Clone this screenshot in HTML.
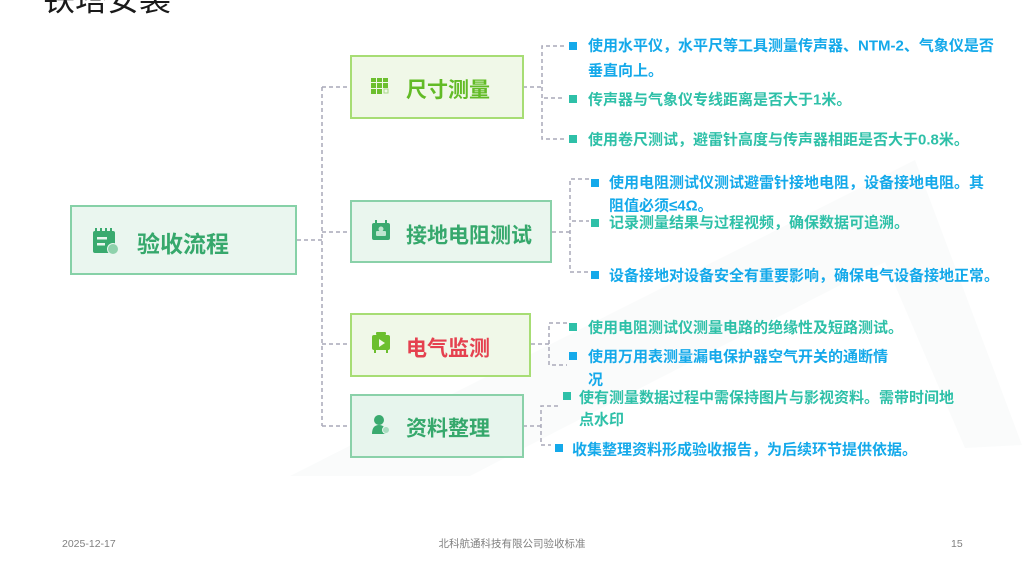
<!DOCTYPE html>
<html><head><meta charset="utf-8">
<style>
html,body{margin:0;padding:0;background:#fff;}
body{width:1024px;height:576px;overflow:hidden;position:relative;}
svg{position:absolute;left:0;top:0;}
text{font-family:"Liberation Sans","Noto Sans CJK SC",sans-serif;}
</style></head>
<body>
<svg width="1024" height="576" viewBox="0 0 1024 576" xmlns="http://www.w3.org/2000/svg">
  <!-- faint background shape -->
  <polygon points="290,476 915,160 1022,445 965,448 885,262 470,476" fill="#fafbfb"/>

  <!-- title -->
  <text x="43" y="10.5" font-size="32" fill="#1a1a1a">铁塔安装</text>

  <!-- connectors -->
  <g stroke="#a9a9b9" stroke-width="1.5" stroke-dasharray="4 3" fill="none">
    <line x1="322" y1="87" x2="322" y2="426"/>
    <line x1="297" y1="240" x2="322" y2="240"/>
    <line x1="322" y1="87" x2="350" y2="87"/>
    <line x1="322" y1="232" x2="350" y2="232"/>
    <line x1="322" y1="344" x2="350" y2="344"/>
    <line x1="322" y1="426" x2="350" y2="426"/>
    <!-- 尺寸 -->
    <line x1="523" y1="87" x2="542" y2="87"/>
    <polyline points="564,46 542,46 542,139 564,139"/>
    <line x1="544" y1="98" x2="564" y2="98"/>
    <!-- 接地 -->
    <line x1="552" y1="232" x2="570" y2="232"/>
    <polyline points="589,179 570,179 570,272 589,272"/>
    <line x1="572" y1="221" x2="589" y2="221"/>
    <!-- 电气 -->
    <line x1="531" y1="344" x2="549" y2="344"/>
    <polyline points="567,323 549,323 549,365 567,365"/>
    <!-- 资料 -->
    <line x1="523" y1="426" x2="541" y2="426"/>
    <polyline points="558,406 541,406 541,445 551,445"/>
  </g>

  <!-- root node -->
  <rect x="71" y="206" width="225" height="68" fill="#eaf6ef" stroke="#86d1a7" stroke-width="2"/>
  <g>
    <rect x="93" y="231" width="22" height="22" rx="2" fill="#3aaa6f"/>
    <rect x="95" y="228" width="2" height="4" fill="#3aaa6f"/>
    <rect x="100" y="228" width="2" height="4" fill="#3aaa6f"/>
    <rect x="105" y="228" width="2" height="4" fill="#3aaa6f"/>
    <rect x="110" y="228" width="2" height="4" fill="#3aaa6f"/>
    <rect x="97" y="237" width="10" height="2.5" fill="#eaf6ef"/>
    <rect x="97" y="243" width="8" height="2.5" fill="#eaf6ef"/>
    <circle cx="113" cy="249" r="5.5" fill="#8fd2ac" stroke="#eaf6ef" stroke-width="1"/>
  </g>
  <text x="137" y="252" font-size="23" font-weight="bold" fill="#36a86c">验收流程</text>

  <!-- 尺寸测量 -->
  <rect x="351" y="56" width="172" height="62" fill="#f0f8e8" stroke="#a7dd74" stroke-width="2"/>
  <g fill="#6cbf2e">
    <rect x="371" y="78" width="5" height="4"/><rect x="377" y="78" width="5" height="4"/><rect x="383" y="78" width="5" height="4"/>
    <rect x="371" y="83" width="5" height="5"/><rect x="377" y="83" width="5" height="5"/><rect x="383" y="83" width="5" height="5"/>
    <rect x="371" y="89" width="5" height="5"/><rect x="377" y="89" width="5" height="5"/>
    <rect x="384" y="89" width="4" height="4" fill="none" stroke="#a9d987" stroke-width="1"/>
  </g>
  <text x="406" y="97" font-size="21" font-weight="bold" fill="#62bb26">尺寸测量</text>

  <!-- 接地电阻测试 -->
  <rect x="351" y="201" width="200" height="61" fill="#eaf6ee" stroke="#8ad1a9" stroke-width="2"/>
  <g>
    <rect x="372" y="223" width="18" height="17" rx="2" fill="#3aaa6f"/>
    <rect x="375" y="220" width="2" height="4" fill="#3aaa6f"/>
    <rect x="385" y="220" width="2" height="4" fill="#3aaa6f"/>
    <rect x="376" y="231" width="10" height="5" rx="1" fill="#bfe6cf"/>
    <circle cx="381" cy="229" r="2.5" fill="#bfe6cf"/>
  </g>
  <text x="406" y="242.5" font-size="21" font-weight="bold" fill="#36a86c">接地电阻测试</text>

  <!-- 电气监测 -->
  <rect x="351" y="314" width="179" height="62" fill="#f0f8e8" stroke="#a7dd74" stroke-width="2"/>
  <g>
    <rect x="376" y="332" width="10" height="3" rx="1" fill="#6cbf2e"/>
    <rect x="372" y="335" width="18" height="15" rx="2" fill="#6cbf2e"/>
    <polygon points="379,339 379,347 385,343" fill="#f0f8e8"/>
    <rect x="374" y="350" width="2" height="3" fill="#6cbf2e"/>
    <rect x="386" y="350" width="2" height="3" fill="#6cbf2e"/>
  </g>
  <text x="406" y="355.5" font-size="21" font-weight="bold" fill="#e5414f">电气监测</text>

  <!-- 资料整理 -->
  <rect x="351" y="395" width="172" height="62" fill="#e7f5ed" stroke="#8ad1a9" stroke-width="2"/>
  <g>
    <circle cx="379" cy="420" r="5" fill="#3aaa6f"/>
    <path d="M372,434 Q372,425 379,425 Q386,425 386,434 Z" fill="#3aaa6f"/>
    <circle cx="386" cy="430" r="3.5" fill="#a9dcc0" stroke="#e7f5ed" stroke-width="1"/>
  </g>
  <text x="406" y="435.5" font-size="21" font-weight="bold" fill="#36a86c">资料整理</text>

  <!-- bullets -->
  <g>
    <rect x="569" y="42" width="8" height="8" fill="#14a9ea"/>
    <rect x="569" y="95" width="8" height="8" fill="#2ec0a8"/>
    <rect x="569" y="135" width="8" height="8" fill="#2ec0a8"/>
    <rect x="591" y="179" width="8" height="8" fill="#14a9ea"/>
    <rect x="591" y="219" width="8" height="8" fill="#2ec0a8"/>
    <rect x="591" y="271" width="8" height="8" fill="#14a9ea"/>
    <rect x="569" y="323" width="8" height="8" fill="#2ec0a8"/>
    <rect x="569" y="352" width="8" height="8" fill="#14a9ea"/>
    <rect x="563" y="392" width="8" height="8" fill="#2ec0a8"/>
    <rect x="555" y="444" width="8" height="8" fill="#14a9ea"/>
  </g>

  <!-- leaf texts -->
  <g font-size="15" font-weight="bold">
    <text x="588" y="50.5" fill="#14a9ea">使用水平仪，水平尺等工具测量传声器、NTM-2、气象仪是否</text>
    <text x="588" y="75.5" fill="#14a9ea">垂直向上。</text>
    <text x="588" y="104.5" fill="#2ec0a8">传声器与气象仪专线距离是否大于1米。</text>
    <text x="588" y="144.5" fill="#2ec0a8">使用卷尺测试，避雷针高度与传声器相距是否大于0.8米。</text>

    <text x="609" y="187.5" fill="#14a9ea">使用电阻测试仪测试避雷针接地电阻，设备接地电阻。其</text>
    <text x="609" y="210.5" fill="#14a9ea">阻值必须≤4Ω。</text>
    <text x="609" y="227.5" fill="#2ec0a8">记录测量结果与过程视频，确保数据可追溯。</text>
    <text x="609" y="280.5" fill="#14a9ea">设备接地对设备安全有重要影响，确保电气设备接地正常。</text>

    <text x="588" y="332.5" fill="#2ec0a8">使用电阻测试仪测量电路的绝缘性及短路测试。</text>
    <text x="588" y="361.5" fill="#14a9ea">使用万用表测量漏电保护器空气开关的通断情</text>
    <text x="588" y="384.5" fill="#14a9ea">况</text>

    <text x="579" y="402.5" fill="#2ec0a8">使有测量数据过程中需保持图片与影视资料。需带时间地</text>
    <text x="579" y="424.5" fill="#2ec0a8">点水印</text>
    <text x="572" y="454.5" fill="#14a9ea">收集整理资料形成验收报告，为后续环节提供依据。</text>
  </g>

  <!-- footer -->
  <g font-size="10.5" fill="#808080">
    <text x="62" y="547">2025-12-17</text>
    <text x="512" y="547" text-anchor="middle">北科航通科技有限公司验收标准</text>
    <text x="951" y="547">15</text>
  </g>
</svg>
</body></html>
